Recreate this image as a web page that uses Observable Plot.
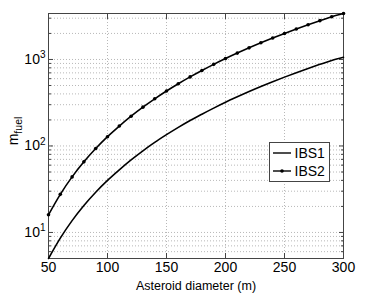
<!DOCTYPE html>
<html><head><meta charset="utf-8">
<script src="https://cdn.jsdelivr.net/npm/d3@7"></script>
<script src="https://cdn.jsdelivr.net/npm/@observablehq/plot@0.6"></script>
<style>
body{margin:0;background:#fff}
svg{font-family:"Liberation Sans",Arial,Helvetica,sans-serif}
</style>
</head><body><div id="chart"></div>
<script>
const diameter = [50,60,70,80,90,100,110,120,130,140,150,160,170,180,190,200,210,220,230,240,250,260,270,280,290,300];
const ibs1 = [5.0,8.6,13.7,20.5,29.2,40,53,69,88,110,135,164,197,233,274,320,370,426,487,553,625,703,787,878,975,1060];
const ibs2 = [16,27.6,43.9,65.5,93.3,128,170,221,281,351,432,524,629,746,878,1024,1185,1363,1558,1769,2000,2250,2519,2810,3122,3400];
const seriesNames = ["IBS1","IBS2"];
const xTicks = [50,100,150,200,250,300];
const yMajor = [10,100,1000];
const yMinor = [6,7,8,9,20,30,40,50,60,70,80,90,200,300,400,500,600,700,800,900,2000,3000];
const xLabel = "Asteroid diameter (m)";

const d1 = diameter.map((d,i)=>({d, m: ibs1[i]}));
const d2 = diameter.map((d,i)=>({d, m: ibs2[i]}));
const grid = {stroke:"#b8b8b8", strokeDasharray:"1,2", strokeWidth:1, strokeOpacity:1};

const chart = Plot.plot({
  width:382, height:302,
  marginLeft:48, marginRight:39, marginTop:13, marginBottom:44,
  style:{fontFamily:'"Liberation Sans",Arial,sans-serif', fontSize:"14px", color:"#000", background:"#fff"},
  x:{domain:[50,300]},
  y:{type:"log", domain:[5,3400]},
  marks:[
    Plot.ruleX(xTicks.slice(1,-1), grid),
    Plot.ruleY(yMajor.concat(yMinor), grid),
    Plot.axisX({anchor:"bottom", ticks:xTicks, tickSize:0, tickPadding:4, tickFormat:d=>String(d), label:null, fontSize:14}),
    Plot.axisX({anchor:"bottom", ticks:xTicks, tickSize:-5, tickFormat:()=>"", label:null, stroke:"#444"}),
    Plot.axisX({anchor:"top", ticks:xTicks, tickSize:-5, tickFormat:()=>"", label:null, stroke:"#444"}),
    Plot.axisY({anchor:"left", ticks:yMajor, tickSize:0, tickPadding:3, tickFormat:d=>"10^"+Math.round(Math.log10(d)), label:null, fontSize:14}),
    Plot.axisY({anchor:"left", ticks:yMajor, tickSize:-5, tickFormat:()=>"", label:null, stroke:"#444"}),
    Plot.axisY({anchor:"left", ticks:yMinor, tickSize:-3, tickFormat:()=>"", label:null, stroke:"#444"}),
    Plot.axisY({anchor:"right", ticks:yMajor, tickSize:-5, tickFormat:()=>"", label:null, stroke:"#444"}),
    Plot.axisY({anchor:"right", ticks:yMinor, tickSize:-3, tickFormat:()=>"", label:null, stroke:"#444"}),
    Plot.frame({stroke:"#444"}),
    Plot.line(d1, {x:"d", y:"m", stroke:"#000", strokeWidth:1.6, curve:"monotone-x"}),
    Plot.line(d2, {x:"d", y:"m", stroke:"#000", strokeWidth:1.6, curve:"monotone-x"}),
    Plot.dot(d2, {x:"d", y:"m", r:1.8, fill:"#000", stroke:"none"}),
    Plot.text([xLabel], {frameAnchor:"bottom", dy:31, text:d=>d, fontSize:12.5})
  ]
});
document.getElementById("chart").appendChild(chart);

const svg = d3.select(chart);
// superscripts for y tick labels
svg.selectAll("text").each(function(){
  const t = d3.select(this);
  const s = this.textContent;
  if (s.startsWith("10^")) {
    const e = s.slice(3);
    this.textContent = "";
    t.append("tspan").text("10");
    t.append("tspan").attr("dy","-0.55em").attr("font-size","10px").text(e);
  }
});
// y axis label with subscript
const yl = svg.append("text")
  .attr("transform","translate(18,131) rotate(-90)")
  .attr("text-anchor","middle")
  .attr("font-size","14px").attr("fill","#000");
yl.append("tspan").text("m");
yl.append("tspan").attr("dy","4").attr("font-size","10.5px").text("fuel");
// legend
const lg = svg.append("g").attr("text-anchor","start");
lg.append("rect").attr("x",269.5).attr("y",142.5).attr("width",60).attr("height",39).attr("fill","#fff").attr("stroke","#444");
seriesNames.forEach((name,i)=>{
  const y = 153 + i*18;
  lg.append("line").attr("x1",273).attr("x2",291).attr("y1",y).attr("y2",y).attr("stroke","#000").attr("stroke-width",1.4);
  if (i===1) lg.append("circle").attr("cx",282).attr("cy",y).attr("r",1.8).attr("fill","#000");
  lg.append("text").attr("x",294.5).attr("y",y).attr("dy","0.36em").attr("font-size","14px").attr("fill","#000").attr("text-anchor","start").text(name);
});
</script>
</body></html>
